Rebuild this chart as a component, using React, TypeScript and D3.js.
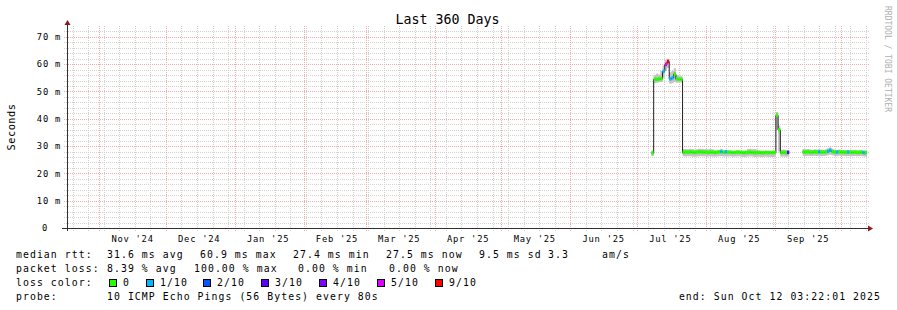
import React from "react";
import * as d3 from "d3";

// ---------- data ----------
const titleText = "Last 360 Days";
const yAxisTitle = "Seconds";
const watermark = "RRDTOOL / TOBI OETIKER";
const graphEnd = "2025-10-12T12:00:00Z";
const spanDays = 360;
const yMax = 73.6; // ms
const yTicks = [0, 10, 20, 30, 40, 50, 60, 70];
const yMinorStep = 2;

// daily samples starting at this time (one per day)
const dataStart = "2025-07-07T12:00:00Z";

const medianMs: (number | null)[] = [
  27.4, 54.4, 54.3, 54.5, 54.6, 57.3, 59.8, 60.9, 54.5, 54.9, 56.3, 54.5, 54.4, 54.4, 27.6,
  27.7, 27.7, 27.8, 27.7, 27.6, 27.7, 27.8, 27.8, 27.7, 27.7,
  27.6, 27.7, 27.7, 27.6, 27.7, 27.8, 27.9, 27.7, 27.8, 27.7,
  27.7, 27.6, 27.6, 27.7, 27.7, 27.6, 27.5, 27.6, 27.6, 27.7,
  27.6, 27.5, 27.5, 27.6, 27.5, 27.5, 27.6, 27.5, 27.6, 27.5, 27.6,
  41.2, 35.9, 27.5, 27.6, 27.5, 27.6,
  null, null, null, null, null, null,
  27.8, 27.7, 27.8, 27.7, 27.7, 27.8, 27.7, 27.8, 27.7, 27.7,
  27.8, 28.0, 28.4, 27.9, 27.7, 27.7, 27.8, 27.7, 27.7, 27.6,
  27.7, 27.7, 27.6, 27.7, 27.6, 27.6, 27.7, 27.5, 27.5,
];

const smokeLoMs: (number | null)[] = [
  26.4, 53.0, 53.2, 53.4, 53.5, 55.0, 57.5, 58.5, 52.8, 53.0, 53.5, 53.2, 53.3, 53.3, 26.3,
  26.2, 26.3, 26.3, 26.2, 26.1, 26.2, 26.3, 26.4, 26.2, 26.3,
  26.2, 26.3, 26.2, 26.1, 26.2, 26.3, 26.4, 26.2, 26.3, 26.2,
  26.3, 26.1, 26.2, 26.2, 26.3, 26.2, 26.0, 26.1, 26.2, 26.3,
  26.2, 26.0, 26.1, 26.1, 26.0, 26.1, 26.2, 26.0, 26.1, 26.0, 26.1,
  36.0, 28.0, 26.1, 26.2, 26.1, 26.2,
  null, null, null, null, null, null,
  26.5, 26.4, 26.5, 26.4, 26.4, 26.5, 26.4, 26.5, 26.4, 26.4,
  26.5, 26.6, 26.8, 26.6, 26.4, 26.4, 26.5, 26.4, 26.4, 26.3,
  26.4, 26.4, 26.3, 26.4, 26.3, 26.3, 26.4, 26.2, 26.2,
];

const smokeHiMs: (number | null)[] = [
  28.4, 56.0, 56.5, 56.2, 57.5, 59.5, 61.5, 62.0, 57.0, 57.5, 58.5, 56.0, 55.8, 55.6, 28.9,
  28.9, 28.8, 29.0, 28.9, 28.7, 28.8, 29.0, 29.0, 28.9, 28.8,
  28.8, 28.9, 28.8, 28.4, 28.3, 28.5, 29.0, 28.3, 28.4, 28.3,
  28.3, 28.2, 28.2, 28.3, 28.3, 28.2, 28.1, 28.2, 28.9, 29.0,
  28.8, 28.9, 28.7, 28.3, 28.1, 28.1, 28.2, 28.1, 28.2, 28.1, 28.2,
  42.5, 37.5, 28.6, 28.7, 28.6, 28.5,
  null, null, null, null, null, null,
  28.9, 28.8, 28.9, 28.7, 28.6, 28.8, 28.7, 28.8, 28.7, 28.6,
  28.8, 29.2, 29.6, 29.0, 28.7, 28.6, 28.7, 28.6, 28.6, 28.5,
  28.6, 28.6, 28.5, 28.6, 28.5, 28.5, 28.6, 28.4, 28.4,
];

// lost pings out of 10 per sample
const lossPings: (number | null)[] = [
  0, 0, 0, 0, 0, 1, 5, 9, 1, 1, 0, 0, 0, 0, 0,
  0, 0, 0, 0, 0, 0, 0, 0, 0, 0,
  0, 0, 0, 0, 0, 0, 1, 0, 1, 0,
  0, 0, 0, 0, 0, 0, 0, 0, 0, 0,
  0, 0, 0, 0, 0, 0, 0, 0, 0, 0, 0,
  0, 0, 0, 0, 0, 3,
  null, null, null, null, null, null,
  0, 0, 0, 0, 0, 0, 0, 1, 0, 0,
  0, 1, 1, 0, 0, 1, 0, 0, 0, 0,
  1, 0, 0, 0, 0, 0, 0, 1, 0,
];

const lossBins = [0, 1, 2, 3, 4, 5, 9];
const lossLabels = ["0", "1/10", "2/10", "3/10", "4/10", "5/10", "9/10"];
const lossColors = ["#26ff00", "#00b8ff", "#0059ff", "#5e00ff", "#7e00ff", "#dd00ff", "#ff0000"];

const rowLabels = ["median rtt:", "packet loss:", "loss color:", "probe:"];
const rttStats = ["31.6 ms avg", "60.9 ms max", "27.4 ms min", "27.5 ms now", "9.5 ms sd", "3.3", "am/s"];
const lossStats = ["8.39 % avg", "100.00 % max", "0.00 % min", "0.00 % now"];
const probeText = "10 ICMP Echo Pings (56 Bytes) every 80s";
const endText = "end: Sun Oct 12 03:22:01 2025";

// ---------- layout ----------
const W = 897;
const H = 310;
const PL = 67, PR = 867, PT = 27, PB = 228;
const MONO = "'DejaVu Sans Mono', 'Liberation Mono', monospace";
const rttX = [107, 200, 293, 386, 479, 548, 602];
const lossX = [107, 194, 298, 389];
const boxX = [109, 146, 203, 261, 319, 377, 435];
const rowBase = [257.5, 271.5, 285.5, 299.5];

function colorFor(loss: number) {
  let idx = 0;
  lossBins.forEach((b, i) => {
    if (loss >= b) idx = i;
  });
  return lossColors[idx];
}

export default function App() {
  const end = new Date(graphEnd);
  const start = d3.utcDay.offset(end, -spanDays);
  const x = d3.scaleUtc().domain([start, end]).range([PL, PR]);
  const y = d3.scaleLinear().domain([0, yMax]).range([PB, PT]);

  const t0 = new Date(dataStart);
  const rows = medianMs.map((m, i) => ({
    t: d3.utcDay.offset(t0, i),
    t1: d3.utcDay.offset(t0, i + 1),
    m,
    lo: smokeLoMs[i],
    hi: smokeHiMs[i],
    loss: lossPings[i],
  }));

  // split into contiguous segments
  const segments: typeof rows[] = [];
  let cur: typeof rows = [];
  rows.forEach((r) => {
    if (r.m == null) {
      if (cur.length) segments.push(cur);
      cur = [];
    } else cur.push(r);
  });
  if (cur.length) segments.push(cur);

  type P = { t: Date; v: number; lo: number; hi: number };
  const stepPts = (seg: typeof rows): P[] =>
    seg.flatMap((r) => [
      { t: r.t, v: r.m as number, lo: r.lo as number, hi: r.hi as number },
      { t: r.t1 > end ? end : r.t1, v: r.m as number, lo: r.lo as number, hi: r.hi as number },
    ]);

  const line = d3
    .line<P>()
    .x((d) => x(d.t))
    .y((d) => y(d.v));
  const area = d3
    .area<P>()
    .x((d) => x(d.t))
    .y0((d) => y(d.lo))
    .y1((d) => y(d.hi));

  const weeks = d3.utcSunday.range(start, end);
  const months = d3.utcMonth.range(d3.utcMonth.ceil(start), end);
  const monthLabels = d3.utcMonth
    .range(d3.utcMonth.floor(start), end)
    .map((m) => d3.utcDay.offset(m, 15))
    .filter((d) => d > start && d < end);
  const fmtMonth = d3.utcFormat("%b '%y");

  const minorY = d3.range(yMinorStep, yMax, yMinorStep).filter((v) => v % 10 !== 0);

  const crisp = (v: number) => Math.round(v) + 0.5;

  return (
    <svg
      width={W}
      height={H}
      style={{ position: "absolute", left: 0, top: 0, display: "block" }}
      xmlns="http://www.w3.org/2000/svg"
    >
      <rect x={0} y={0} width={W} height={H} fill="#ffffff" />

      {/* minor grid */}
      <g stroke="#d2d2d2" strokeWidth={1} strokeDasharray="1,1" shapeRendering="crispEdges">
        {weeks.map((w, i) => (
          <line key={"w" + i} x1={crisp(x(w))} x2={crisp(x(w))} y1={PT - 1} y2={PB + 3} />
        ))}
        {minorY.map((v, i) => (
          <line key={"my" + i} x1={PL - 3} x2={PR + 2} y1={crisp(y(v))} y2={crisp(y(v))} />
        ))}
      </g>
      {/* major grid */}
      <g stroke="#f2aaaa" strokeWidth={1} strokeDasharray="1,1" shapeRendering="crispEdges">
        {months.map((m, i) => (
          <line key={"m" + i} x1={crisp(x(m))} x2={crisp(x(m))} y1={PT - 1} y2={PB + 3} />
        ))}
        {yTicks
          .filter((v) => v > 0)
          .map((v, i) => (
            <line key={"My" + i} x1={PL - 3} x2={PR + 2} y1={crisp(y(v))} y2={crisp(y(v))} />
          ))}
      </g>

      {/* smoke */}
      {segments.map((seg, i) => (
        <path key={"s" + i} d={area(stepPts(seg)) || ""} fill="#c4c4c4" />
      ))}
      {/* median line */}
      {segments.map((seg, i) => (
        <path
          key={"l" + i}
          d={line(stepPts(seg)) || ""}
          fill="none"
          stroke="#202020"
          strokeWidth={1}
        />
      ))}
      {/* loss-coloured median bands */}
      {rows
        .filter((r) => r.m != null)
        .map((r, i) => {
          const x0 = x(r.t);
          const x1 = x(r.t1 > end ? end : r.t1);
          const ym = y(r.m as number);
          return (
            <rect
              key={"b" + i}
              x={x0}
              y={ym - 2}
              width={Math.max(0, x1 - x0)}
              height={3.5}
              fill={colorFor(r.loss as number)}
            />
          );
        })}

      {/* axes */}
      <g stroke="#303030" strokeWidth={1} shapeRendering="crispEdges">
        <line x1={PL - 5} x2={PR + 2} y1={PB + 0.5} y2={PB + 0.5} />
        <line x1={PL + 0.5} x2={PL + 0.5} y1={PB + 3} y2={PT - 3} />
      </g>
      <path d={`M${PL - 2.5},${PT - 2} L${PL + 3.5},${PT - 2} L${PL + 0.5},${PT - 7} Z`} fill="#8b1a1a" />
      <path d={`M${PR + 1},${PB - 2.5} L${PR + 1},${PB + 3.5} L${PR + 6},${PB + 0.5} Z`} fill="#8b1a1a" />

      {/* axis labels */}
      <g fontFamily={MONO} fontSize={8.8} fill="#000" style={{ letterSpacing: "0.74px" }}>
        {yTicks.map((v, i) => (
          <text key={"yl" + i} x={v === 0 ? 48 : 61} y={y(v) + 3.2} textAnchor="end">
            {v === 0 ? "0" : `${v} m`}
          </text>
        ))}
        {monthLabels.map((d, i) => (
          <text key={"xl" + i} x={x(d)} y={242} textAnchor="middle">
            {fmtMonth(d)}
          </text>
        ))}
      </g>

      {/* title */}
      <text x={447.5} y={24} textAnchor="middle" fontFamily={MONO} fontSize={13.3} fill="#000">
        {titleText}
      </text>
      <text
        transform="translate(15,127) rotate(-90)"
        textAnchor="middle"
        fontFamily={MONO}
        fontSize={10.3}
        fill="#000"
        style={{ letterSpacing: "0.5px" }}
      >
        {yAxisTitle}
      </text>
      <text
        transform="translate(885,59) rotate(90)"
        textAnchor="middle"
        fontFamily={MONO}
        fontSize={8}
        fill="#b0b0b0"
      >
        {watermark}
      </text>

      {/* legend */}
      <g fontFamily={MONO} fontSize={9.8} fill="#000" style={{ letterSpacing: "1.07px" }}>
        {rowLabels.map((t, i) => (
          <text key={"rl" + i} x={16} y={rowBase[i]}>
            {t}
          </text>
        ))}
        {rttStats.map((t, i) => (
          <text key={"rs" + i} x={rttX[i]} y={rowBase[0]}>
            {t}
          </text>
        ))}
        {lossStats.map((t, i) => (
          <text key={"ls" + i} x={lossX[i]} y={rowBase[1]}>
            {t}
          </text>
        ))}
        {lossLabels.map((t, i) => (
          <g key={"lc" + i}>
            <rect
              x={boxX[i] + 0.5}
              y={279.5}
              width={7}
              height={7}
              fill={lossColors[i]}
              stroke="#000"
              strokeWidth={1}
              shapeRendering="crispEdges"
            />
            <text x={boxX[i] + 14} y={rowBase[2]}>
              {t}
            </text>
          </g>
        ))}
        <text x={107} y={rowBase[3]}>
          {probeText}
        </text>
        <text x={881} y={rowBase[3]} textAnchor="end">
          {endText}
        </text>
      </g>
    </svg>
  );
}
